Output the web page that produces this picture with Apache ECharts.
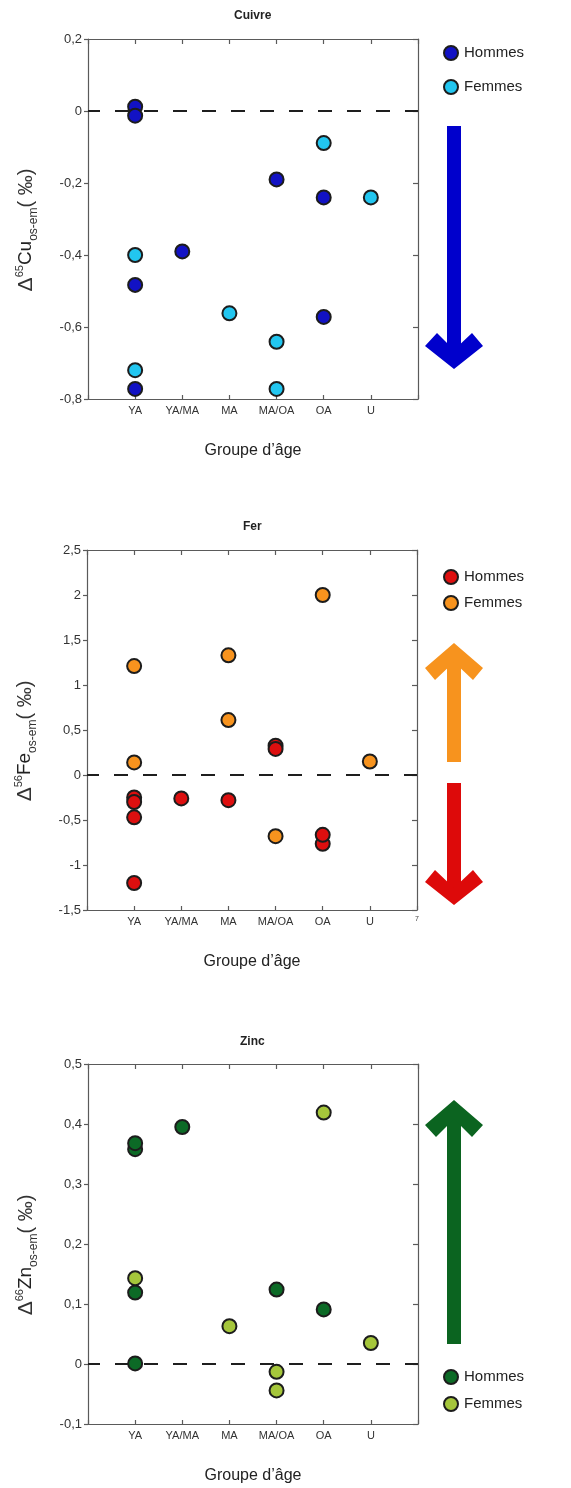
<!DOCTYPE html>
<html>
<head>
<meta charset="utf-8">
<script src="https://cdn.jsdelivr.net/npm/echarts@6/dist/echarts.min.js"></script>
<style>
html,body{margin:0;padding:0;background:#fff;}
#c{width:571px;height:1488px;}
</style>
</head>
<body>
<div id="c"></div>
<script>
// ---- Data ----
const categories = ['YA', 'YA/MA', 'MA', 'MA/OA', 'OA', 'U'];
const panelTitles = ['Cuivre', 'Fer', 'Zinc'];
const sexes = ['Hommes', 'Femmes'];

const cuHommes = [['YA', 0.012], ['YA', -0.013], ['YA', -0.483], ['YA', -0.772], ['YA/MA', -0.39], ['MA/OA', -0.19], ['OA', -0.24], ['OA', -0.572]];
const cuFemmes = [['YA', -0.40], ['YA', -0.72], ['MA', -0.562], ['MA/OA', -0.641], ['MA/OA', -0.772], ['OA', -0.089], ['U', -0.24]];

const feHommes = [['YA', -0.25], ['YA', -0.30], ['YA', -0.47], ['YA', -1.20], ['YA/MA', -0.26], ['MA', -0.28], ['MA/OA', 0.325], ['MA/OA', 0.29], ['OA', -0.765], ['OA', -0.665]];
const feFemmes = [['YA', 1.21], ['YA', 0.14], ['MA', 1.33], ['MA', 0.61], ['MA/OA', -0.68], ['OA', 2.0], ['U', 0.15]];

const znHommes = [['YA', 0.358], ['YA', 0.368], ['YA', 0.119], ['YA', 0.001], ['YA/MA', 0.395], ['MA/OA', 0.124], ['OA', 0.091]];
const znFemmes = [['YA', 0.143], ['MA', 0.063], ['MA/OA', -0.013], ['MA/OA', -0.044], ['OA', 0.419], ['U', 0.035]];

const cuTicks = {min: -0.8, max: 0.2, interval: 0.2};
const feTicks = {min: -1.5, max: 2.5, interval: 0.5};
const znTicks = {min: -0.1, max: 0.5, interval: 0.1};
const zeroLine = 0;

// ---- Styles ----
const FONT = 'Arial, "Liberation Sans", Helvetica, sans-serif';
const panels = [
  {key: 'Cuivre', hommes: cuHommes, femmes: cuFemmes, ticks: cuTicks, colors: ['#1212c4', '#22c6f0'],
   iso: '65', el: 'Cu', grid: {left: 88, top: 39, width: 330, height: 360}, titleTop: 10, titleLeft: 234,
   legend: {top: 45, gap: 18}, extra7: false},
  {key: 'Fer', hommes: feHommes, femmes: feFemmes, ticks: feTicks, colors: ['#dd0f0f', '#f7931e'],
   iso: '56', el: 'Fe', grid: {left: 87, top: 550, width: 330, height: 360}, titleTop: 521, titleLeft: 243,
   legend: {top: 569, gap: 10}, extra7: true},
  {key: 'Zinc', hommes: znHommes, femmes: znFemmes, ticks: znTicks, colors: ['#0c6a26', '#a5c63b'],
   iso: '66', el: 'Zn', grid: {left: 88, top: 1064, width: 330, height: 360}, titleTop: 1036, titleLeft: 240,
   legend: {top: 1369, gap: 11}, extra7: false}
];

function toXY(arr) { return arr.map(d => [categories.indexOf(d[0]) + 1, d[1]]); }
function fmtNum(v) { return String(Math.round(v * 100) / 100).replace('.', ','); }

const option = {
  animation: false,
  backgroundColor: '#fff',
  textStyle: {fontFamily: FONT},
  title: [], grid: [], xAxis: [], yAxis: [], series: [], legend: [], graphic: []
};

const axisLineStyle = {color: '#5a5a5a', width: 1.2};

panels.forEach((p, i) => {
  option.title.push({text: p.key, left: p.titleLeft, top: p.titleTop, padding: 0,
    textStyle: {fontSize: 12, fontWeight: 'bold', color: '#222', fontFamily: FONT}});
  option.grid.push(Object.assign({containLabel: false}, p.grid));
  // bottom x axis
  option.xAxis.push({
    type: 'value', gridIndex: i, min: 0, max: 7, interval: 1, position: 'bottom',
    axisLine: {show: true, onZero: false, lineStyle: axisLineStyle},
    axisTick: {show: true, inside: true, length: 4, lineStyle: axisLineStyle},
    splitLine: {show: false},
    axisLabel: {
      margin: 6, color: '#333', fontSize: 11, fontFamily: FONT,
      formatter: v => (v >= 1 && v <= categories.length) ? categories[v - 1] : (p.extra7 && v === 7 ? '{s|7}' : ''),
      rich: {s: {fontSize: 7, color: '#444', fontFamily: FONT}}
    },
    name: 'Groupe d’âge', nameLocation: 'middle', nameGap: 44,
    nameTextStyle: {fontSize: 16, color: '#222', fontFamily: FONT}
  });
  // top x axis (box)
  option.xAxis.push({
    type: 'value', gridIndex: i, min: 0, max: 7, interval: 1, position: 'top',
    axisLine: {show: true, onZero: false, lineStyle: axisLineStyle},
    axisTick: {show: true, inside: true, length: 5, lineStyle: axisLineStyle},
    axisLabel: {show: false}, splitLine: {show: false}
  });
  // left y axis
  option.yAxis.push({
    type: 'value', gridIndex: i, min: p.ticks.min, max: p.ticks.max, interval: p.ticks.interval, position: 'left',
    axisLine: {show: true, onZero: false, lineStyle: axisLineStyle},
    axisTick: {show: true, inside: false, length: 4, lineStyle: axisLineStyle},
    splitLine: {show: false},
    axisLabel: {margin: 6, color: '#333', fontSize: 13, fontFamily: FONT, formatter: fmtNum},
    name: '{d|Δ}{sup|' + p.iso + '}{m|' + p.el + '}{sub|os-em}{p|( ‰)}',
    nameLocation: 'middle', nameRotate: 90, nameGap: 48,
    nameTextStyle: {
      color: '#222', fontFamily: FONT, padding: [0, 22, 0, 0],
      rich: {
        d: {fontSize: 21, color: '#333', fontFamily: FONT, lineHeight: 28},
        sup: {fontSize: 11, color: '#333', fontFamily: FONT, verticalAlign: 'top', lineHeight: 28, padding: [2, 0, 0, 0]},
        m: {fontSize: 19, color: '#222', fontFamily: FONT, lineHeight: 28},
        sub: {fontSize: 12, color: '#333', fontFamily: FONT, verticalAlign: 'bottom', lineHeight: 28},
        p: {fontSize: 20, color: '#333', fontFamily: FONT, lineHeight: 28}
      }
    }
  });
  // right y axis (box)
  option.yAxis.push({
    type: 'value', gridIndex: i, min: p.ticks.min, max: p.ticks.max, interval: p.ticks.interval, position: 'right',
    axisLine: {show: true, onZero: false, lineStyle: axisLineStyle},
    axisTick: {show: true, inside: true, length: 5, lineStyle: axisLineStyle},
    axisLabel: {show: false}, splitLine: {show: false}
  });
  const xi = i * 2, yi = i * 2;
  // zero dashed line
  option.series.push({
    type: 'line', xAxisIndex: xi, yAxisIndex: yi, data: [], z: 1, silent: true,
    markLine: {
      silent: true, symbol: ['none', 'none'], label: {show: false},
      lineStyle: {type: [14, 15], dashOffset: 2, color: '#1e1e1e', width: 2},
      emphasis: {disabled: true},
      data: [{yAxis: zeroLine}]
    }
  });
  [p.hommes, p.femmes].forEach((arr, k) => {
    option.series.push({
      name: p.key + '|' + sexes[k], type: 'scatter', xAxisIndex: xi, yAxisIndex: yi, z: 3,
      symbol: 'circle', symbolSize: 14,
      itemStyle: {color: p.colors[k], borderColor: '#1c1c1c', borderWidth: 2, opacity: 1},
      emphasis: {disabled: true},
      data: toXY(arr)
    });
  });
  option.legend.push({
    orient: 'vertical', left: 443, top: p.legend.top, itemGap: p.legend.gap,
    itemWidth: 14, itemHeight: 14, icon: 'circle', padding: 0,
    data: sexes.map(s => p.key + '|' + s),
    formatter: n => n.split('|')[1],
    itemStyle: {borderColor: '#1c1c1c', borderWidth: 2},
    textStyle: {fontSize: 15, color: '#222', fontFamily: FONT, lineHeight: 14, padding: [0, 0, 0, 1]},
    selectedMode: false
  });
});

// ---- Decorative arrows ----
function arrow(color, shaftTop, shaftBottom, head) {
  return [
    {type: 'rect', shape: {x: 447, y: shaftTop, width: 14, height: shaftBottom - shaftTop}, style: {fill: color}, silent: true},
    {type: 'polygon', shape: {points: head}, style: {fill: color}, silent: true}
  ];
}
option.graphic = [].concat(
  arrow('#0000cc', 126, 356, [[437, 333], [454, 350], [472, 333], [483, 346], [454, 369], [425, 346]]),
  arrow('#f7931e', 658, 762, [[454, 643], [483, 668], [473, 680], [454, 662], [435, 680], [425, 668]]),
  arrow('#dd0a0a', 783, 892, [[435, 870], [454, 888], [473, 870], [483, 882], [454, 905], [425, 882]]),
  arrow('#0b6420', 1114, 1344, [[454, 1100], [483, 1125], [472, 1137], [454, 1119], [436, 1137], [425, 1125]])
);

const chart = echarts.init(document.getElementById('c'), null, {renderer: 'canvas'});
chart.setOption(option);
</script>
</body>
</html>
